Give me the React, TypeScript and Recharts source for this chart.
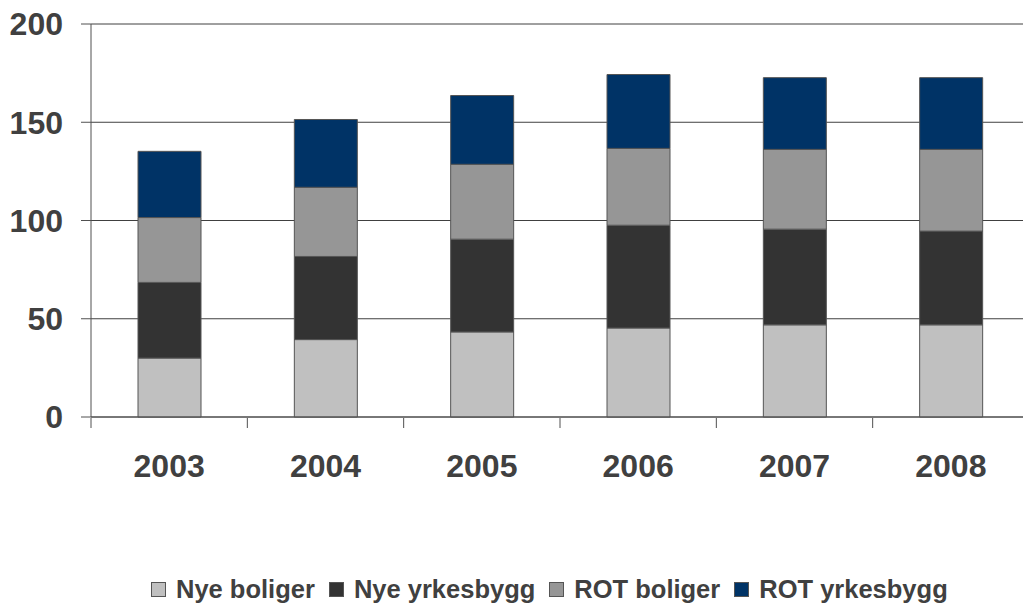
import { BarChart, Bar, XAxis, YAxis, CartesianGrid, Legend } from 'recharts';

const years = ['2003', '2004', '2005', '2006', '2007', '2008'];
const nyeBoliger = [30, 39.4, 43.3, 45.3, 46.9, 46.9];
const nyeYrkesbygg = [38.5, 42.3, 47.2, 52.3, 48.7, 47.7];
const rotBoliger = [33, 35.2, 38.1, 39.1, 40.6, 41.6];
const rotYrkesbygg = [33.7, 34.5, 35, 37.6, 36.5, 36.5];
const yTicks = [0, 50, 100, 150, 200];
const boundaryTicks = [0, 1, 2, 3, 4, 5, 6];

const series = [
  { key: 'nyeBoliger', name: 'Nye boliger', color: '#c0c0c0' },
  { key: 'nyeYrkesbygg', name: 'Nye yrkesbygg', color: '#333333' },
  { key: 'rotBoliger', name: 'ROT boliger', color: '#969696' },
  { key: 'rotYrkesbygg', name: 'ROT yrkesbygg', color: '#003366' },
];

const data = years.map((year, i) => ({
  year,
  slot: i + 0.5,
  nyeBoliger: nyeBoliger[i],
  nyeYrkesbygg: nyeYrkesbygg[i],
  rotBoliger: rotBoliger[i],
  rotYrkesbygg: rotYrkesbygg[i],
}));

const font = '"Liberation Sans", Arial, sans-serif';
const textColor = '#404040';

function AxisTick(props: any) {
  const { x, y, payload, textAnchor, verticalAnchor } = props;
  const dy = verticalAnchor === 'start' ? '0.71em' : verticalAnchor === 'end' ? '0' : '0.355em';
  return (
    <text x={x} y={y} dy={dy} textAnchor={textAnchor} fill={textColor} fontSize={32} fontWeight={700} fontFamily={font}>
      {payload.value}
    </text>
  );
}

function LegendRow() {
  return (
    <div style={{ display: 'flex', alignItems: 'center', fontFamily: font, fontWeight: 700, fontSize: 25.5, color: textColor, whiteSpace: 'nowrap' }}>
      {series.map(s => (
        <div key={s.key} style={{ display: 'flex', alignItems: 'center', marginRight: 14 }}>
          <span style={{ display: 'inline-block', width: 13, height: 13, background: s.color, border: '1px solid #555', marginRight: 10 }} />
          <span>{s.name}</span>
        </div>
      ))}
    </div>
  );
}

export default function App() {
  return (
    <div style={{ position: 'fixed', left: 0, top: 0, width: 1023, height: 605, overflow: 'hidden', background: '#fff' }}>
      <BarChart width={1040} height={605} data={data} margin={{ top: 24, right: 11, left: 0, bottom: 0 }} barSize={63}>
        <CartesianGrid vertical={false} stroke="#404040" strokeWidth={1} />
        <XAxis dataKey="year" tickLine={false} tickSize={0} tickMargin={37} height={1}
          axisLine={{ stroke: '#505050' }}
          tick={<AxisTick />} />
        {/* category boundary ticks */}
        <XAxis xAxisId="bounds" dataKey="slot" type="number" scale="linear" domain={[0, 6]} ticks={boundaryTicks}
          tickFormatter={() => ''} axisLine={false}
          tickLine={{ stroke: '#505050' }} tickSize={10} height={158} allowDataOverflow />
        <YAxis domain={[0, 200]} ticks={yTicks} width={91} tickSize={10} tickMargin={18}
          axisLine={{ stroke: '#505050' }} tickLine={{ stroke: '#505050' }}
          tick={<AxisTick />} />
        <Legend content={() => <LegendRow />} wrapperStyle={{ left: 151, top: 575, width: 'auto' }} />
        {series.map(s => (
          <Bar key={s.key} dataKey={s.key} name={s.name} stackId="a" fill={s.color} stroke="#555555" strokeWidth={1} isAnimationActive={false} />
        ))}
      </BarChart>
    </div>
  );
}
